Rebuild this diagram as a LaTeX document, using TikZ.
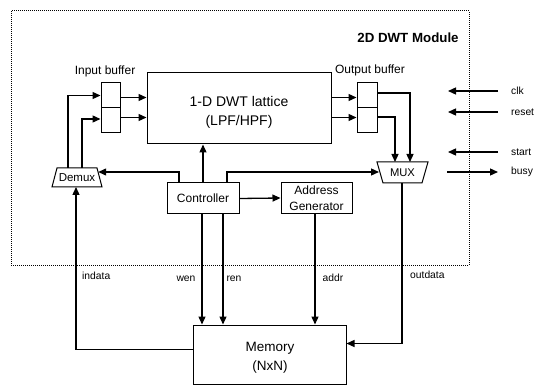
\documentclass[tikz,border=0pt]{standalone}
\usepackage{fontspec}
\setmainfont{Liberation Sans}
\usetikzlibrary{arrows.meta,calc}
\begin{document}
\begin{tikzpicture}[x=1pt,y=-1pt,
  box/.style={draw,line width=1pt,inner sep=0pt,align=center},
  shp/.style={draw,line width=1pt,line join=miter},
  arr/.style={line width=1.3pt,-{Triangle[length=8pt,width=7pt]}},
  sig/.style={font=\fontsize{10.3}{12}\selectfont,inner sep=0pt},
  lab/.style={font=\fontsize{12}{14}\selectfont}
]
\useasboundingbox (0,0) rectangle (536,385);
% module border
\draw[densely dotted,line width=1pt] (11,11) rectangle (469,265);
\node[font=\bfseries\fontsize{13.3}{15}\selectfont] (title) at (408,38) {2D DWT Module};
% lattice
\node[box,minimum width=184pt,minimum height=71pt] (lat) at (239,108.5) {};
\node[font=\fontsize{14}{19}\selectfont,align=center] (lattxt) at (239,112) {1-D DWT lattice\\(LPF/HPF)};
% buffers
\node[box,minimum width=19pt,minimum height=25pt] (ib1) at (110.5,95.5) {};
\node[box,minimum width=19pt,minimum height=25pt] (ib2) at (110.5,120.5) {};
\node[box,minimum width=20pt,minimum height=25pt] (ob1) at (367,95.5) {};
\node[box,minimum width=20pt,minimum height=25pt] (ob2) at (367,120.5) {};
\node[lab] (iblab) at (105,71) {Input buffer};
\node[lab] (oblab) at (370,70) {Output buffer};
% demux (wide at bottom)
\coordinate (dmTL) at (57,168); \coordinate (dmTR) at (97,168);
\coordinate (dmBR) at (102,187); \coordinate (dmBL) at (52,187);
\draw[shp] (dmTL) -- (dmTR) -- (dmBR) -- (dmBL) -- cycle;
\node[font=\fontsize{11.5}{13}\selectfont,inner sep=0pt] (demux) at (77,178) {Demux};
% mux (wide at top)
\coordinate (mxTL) at (377,162); \coordinate (mxTR) at (428,162);
\coordinate (mxBR) at (422,183); \coordinate (mxBL) at (383,183);
\draw[shp] (mxTL) -- (mxTR) -- (mxBR) -- (mxBL) -- cycle;
\node[font=\fontsize{11.2}{13}\selectfont,inner sep=0pt] (mux) at (402.5,173) {MUX};
% controller, address generator, memory
\node[box,minimum width=72pt,minimum height=31pt,font=\fontsize{12}{14}\selectfont] (ctrl) at (203,198.5) {Controller};
\node[box,minimum width=71pt,minimum height=31pt,font=\fontsize{12}{15.5}\selectfont] (addr) at (316.5,198) {Address\\Generator};
\node[box,minimum width=153pt,minimum height=59pt] (mem) at (269.5,354.5) {};
\node[font=\fontsize{13.5}{19}\selectfont,align=center] (memtxt) at (270,358) {Memory\\(NxN)};
% buffers to lattice and out
\draw[arr] ([yshift=-2pt]ib1.east) -- ([yshift=-2pt]ib1.east -| lat.west);
\draw[arr] ([yshift=3pt]ib2.east) -- ([yshift=3pt]ib2.east -| lat.west);
\draw[arr] ([yshift=-2pt]ob1.west -| lat.east) -- ([yshift=-2pt]ob1.west);
\draw[arr] ([yshift=3pt]ob2.west -| lat.east) -- ([yshift=3pt]ob2.west);
% demux to input buffer
\coordinate (dmO1) at (68,168);
\coordinate (dmO2) at (82,168);
\draw[arr] (dmO1) |- (ib1.west);
\draw[arr] (dmO2) |- ([yshift=1.5pt]ib2.west);
% output buffer to mux
\coordinate (mxI1) at (410,162);
\coordinate (mxI2) at (395,162);
\draw[arr] ([yshift=2.5pt]ob1.east) -| (mxI1);
\draw[arr] ([yshift=3.5pt]ob2.east) -| (mxI2);
% controller
\draw[arr] (ctrl.north) -- (ctrl.north |- lat.south);
\coordinate (dmIn) at (98.2,172);
\coordinate (mxIn) at (379,172);
\draw[arr] ([xshift=-24pt]ctrl.north) |- (dmIn);
\draw[arr] ([xshift=24pt]ctrl.north) |- (mxIn);
\draw[arr] (ctrl.east) -- (addr.west);
\draw[arr] ([xshift=-1pt]ctrl.south) -- ([xshift=-1pt]ctrl.south |- mem.north);
\draw[arr] ([xshift=20pt]ctrl.south) -- ([xshift=20pt]ctrl.south |- mem.north);
\draw[arr] ([xshift=-1.5pt]addr.south) -- ([xshift=-1.5pt]addr.south |- mem.north);
% memory data
\coordinate (dmIdx) at (76,187);
\coordinate (mxOut) at (402,183);
\draw[arr] ([yshift=5pt]mem.west) -| (dmIdx);
\draw[arr] (mxOut) |- ([yshift=11pt]mem.east);
% signal labels
\node[sig,anchor=west] (indata) at (82,276) {indata};
\node[sig] (wen) at (186,279) {wen};
\node[sig] (ren) at (234,279) {ren};
\node[sig] (addrl) at (333,278) {addr};
\node[sig,anchor=west] (outdata) at (410,275) {outdata};
% external signals
\node[sig,anchor=west] (clk) at (511,91) {clk};
\node[sig,anchor=west] (reset) at (511,112) {reset};
\node[sig,anchor=west] (start) at (511,152) {start};
\node[sig,anchor=west] (busy) at (511,172) {busy};
\coordinate (clkT) at (448,91);
\coordinate (resetT) at (448,112);
\coordinate (startT) at (448,152);
\coordinate (busyS) at (447,172);
\draw[arr] ([xshift=-13pt]clk.west) -- (clkT);
\draw[arr] ([xshift=-13pt]reset.west) -- (resetT);
\draw[arr] ([xshift=-13pt]start.west) -- (startT);
\draw[arr] (busyS) -- ([xshift=-13pt]busy.west);
\end{tikzpicture}
\end{document}
